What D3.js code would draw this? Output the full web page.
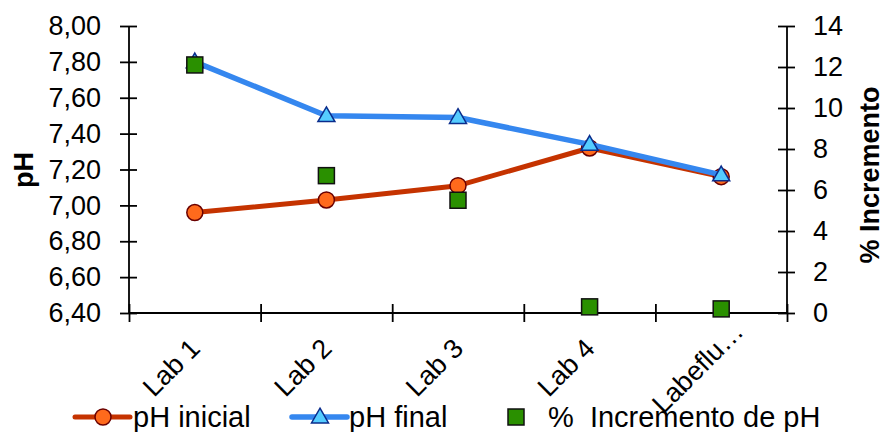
<!DOCTYPE html>
<html>
<head>
<meta charset="utf-8">
<script src="https://cdn.jsdelivr.net/npm/d3@7"></script>
<style>
  body { margin: 0; background: #fff; }
  svg { display: block; font-family: "Liberation Sans", Arial, sans-serif; }
  .axis path, .axis line { stroke: #000; stroke-width: 1.8; }
  .axis text { font-size: 27px; fill: #000; font-family: "Liberation Sans", Arial, sans-serif; }
  .legend text { font-size: 29px; fill: #000; white-space: pre; }
</style>
</head>
<body>
<script>
const categories = ['Lab 1', 'Lab 2', 'Lab 3', 'Lab 4', 'Labeflu…'];
const phInicial = [6.96, 7.03, 7.11, 7.32, 7.16];
const phFinal = [7.80, 7.50, 7.49, 7.34, 7.17];
const incremento = [12.1, 6.7, 5.5, 0.3, 0.2];
const phTicks = [6.4, 6.6, 6.8, 7.0, 7.2, 7.4, 7.6, 7.8, 8.0];
const pctTicks = [0, 2, 4, 6, 8, 10, 12, 14];
const legendLabels = ['pH inicial', 'pH final', '%  Incremento de pH'];

const svg = d3.select('body')
  .append('svg')
  .attr('width', 884)
  .attr('height', 432);

const plot = { left: 129, right: 787, top: 26, bottom: 313 };

const xBand = d3.scaleBand().domain(categories).range([plot.left, plot.right]).padding(0);
const xEdge = d3.scaleLinear().domain([0, categories.length]).range([plot.left, plot.right]);
const yPH = d3.scaleLinear().domain([6.4, 8.0]).range([plot.bottom, plot.top]);
const yPct = d3.scaleLinear().domain([0, 14]).range([plot.bottom, plot.top]);
const cx = d => xBand(d) + xBand.bandwidth() / 2;

const comma = d3.formatLocale({ decimal: ',', thousands: '.', grouping: [3], currency: ['', ''] });

// left axis
const gLeft = svg.append('g')
  .attr('class', 'axis')
  .attr('transform', 'translate(' + plot.left + ',0)')
  .call(d3.axisLeft(yPH).tickValues(phTicks).tickFormat(comma.format('.2f')).tickSize(0).tickPadding(28));
gLeft.selectAll('.tick line').attr('x1', -9).attr('x2', 8);
gLeft.select('.domain').attr('d', 'M0,' + plot.top + 'V' + plot.bottom);

// right axis
const gRight = svg.append('g')
  .attr('class', 'axis')
  .attr('transform', 'translate(' + plot.right + ',0)')
  .call(d3.axisRight(yPct).tickValues(pctTicks).tickFormat(d3.format('d')).tickSize(0).tickPadding(26));
gRight.selectAll('.tick line').attr('x1', -9).attr('x2', 8);
gRight.select('.domain').attr('d', 'M0,' + plot.top + 'V' + plot.bottom);

// bottom axis (ticks between categories)
const gBottom = svg.append('g')
  .attr('class', 'axis')
  .attr('transform', 'translate(0,' + plot.bottom + ')')
  .call(d3.axisBottom(xEdge).ticks(categories.length).tickFormat('').tickSize(0));
gBottom.selectAll('.tick line').attr('y1', -9).attr('y2', 9);
gBottom.select('.domain').attr('d', 'M' + plot.left + ',0H' + plot.right);

// category labels, rotated
svg.append('g')
  .selectAll('text')
  .data(categories)
  .enter()
  .append('text')
  .attr('transform', d => 'translate(' + (cx(d) - 17) + ',374) rotate(-45)')
  .attr('text-anchor', 'middle')
  .style('font-size', '27px')
  .text(d => d);

// axis titles
svg.append('text')
  .attr('transform', 'translate(33,170) rotate(-90)')
  .attr('text-anchor', 'middle')
  .style('font-size', '27px')
  .style('font-weight', 'bold')
  .text('pH');

svg.append('text')
  .attr('transform', 'translate(879,175) rotate(-90)')
  .attr('text-anchor', 'middle')
  .style('font-size', '27px')
  .style('font-weight', 'bold')
  .text('% Incremento');

const lineGen = (vals, scale) => d3.line()
  .x((d, i) => cx(categories[i]))
  .y(d => scale(d))(vals);

// pH inicial
svg.append('path')
  .attr('d', lineGen(phInicial, yPH))
  .attr('fill', 'none')
  .attr('stroke', '#C53300')
  .attr('stroke-width', 5)
  .attr('stroke-linejoin', 'round');
svg.append('g')
  .selectAll('circle')
  .data(phInicial)
  .enter()
  .append('circle')
  .attr('cx', (d, i) => cx(categories[i]))
  .attr('cy', d => yPH(d))
  .attr('r', 8)
  .attr('fill', '#FF6A1C')
  .attr('stroke', '#6A0000')
  .attr('stroke-width', 1.5);

// pH final
const tri = d3.symbol().type(d3.symbolTriangle).size(125);
svg.append('path')
  .attr('d', lineGen(phFinal, yPH))
  .attr('fill', 'none')
  .attr('stroke', '#3587EF')
  .attr('stroke-width', 5.5)
  .attr('stroke-linejoin', 'round');
svg.append('g')
  .selectAll('path')
  .data(phFinal)
  .enter()
  .append('path')
  .attr('d', tri)
  .attr('transform', (d, i) => 'translate(' + cx(categories[i]) + ',' + (yPH(d) + 1) + ')')
  .attr('fill', '#55CCFF')
  .attr('stroke', '#0A2C8C')
  .attr('stroke-width', 1.5);

// % incremento
svg.append('g')
  .selectAll('rect')
  .data(incremento)
  .enter()
  .append('rect')
  .attr('x', (d, i) => cx(categories[i]) - 8)
  .attr('y', d => yPct(d) - 8)
  .attr('width', 16)
  .attr('height', 16)
  .attr('fill', '#2A9000')
  .attr('stroke', '#111')
  .attr('stroke-width', 1.5);

// Legend
const leg = svg.append('g').attr('class', 'legend');
const ly = 417;
leg.append('line').attr('x1', 75).attr('x2', 130).attr('y1', ly).attr('y2', ly)
  .attr('stroke', '#C53300').attr('stroke-width', 5).attr('stroke-linecap', 'round');
leg.append('circle').attr('cx', 103).attr('cy', ly).attr('r', 8)
  .attr('fill', '#FF6A1C').attr('stroke', '#6A0000').attr('stroke-width', 1.5);
leg.append('text').attr('x', 133).attr('y', 427).text(legendLabels[0]);

leg.append('line').attr('x1', 292).attr('x2', 347).attr('y1', ly).attr('y2', ly)
  .attr('stroke', '#3587EF').attr('stroke-width', 5.5).attr('stroke-linecap', 'round');
leg.append('path').attr('d', tri).attr('transform', 'translate(320,' + (ly + 1) + ')')
  .attr('fill', '#55CCFF').attr('stroke', '#0A2C8C').attr('stroke-width', 1.5);
leg.append('text').attr('x', 349).attr('y', 427).text(legendLabels[1]);

leg.append('rect').attr('x', 508).attr('y', ly - 8).attr('width', 16).attr('height', 16)
  .attr('fill', '#2A9000').attr('stroke', '#111').attr('stroke-width', 1.5);
leg.append('text').attr('x', 548).attr('y', 427).text(legendLabels[2]);
</script>
</body>
</html>
